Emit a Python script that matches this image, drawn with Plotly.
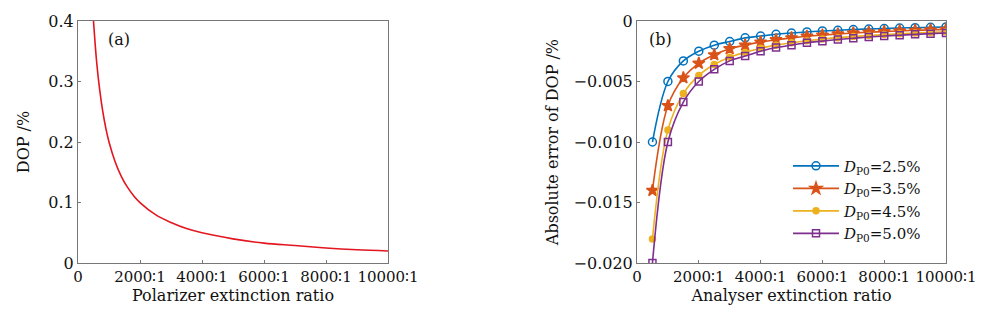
import plotly.graph_objects as go

# Panel (a): DOP vs polarizer extinction ratio
xa = [500, 600, 700, 800, 900, 1000, 1200, 1400, 1600, 1800, 2000, 2500, 3000, 3500,
      4000, 5000, 6000, 7000, 8000, 9000, 10000]
ya = [0.400, 0.333, 0.286, 0.250, 0.222, 0.200, 0.167, 0.143, 0.125, 0.111, 0.100,
      0.080, 0.067, 0.057, 0.050, 0.040, 0.033, 0.029, 0.025, 0.022, 0.020]

# Panel (b): absolute error of DOP vs analyser extinction ratio
xb = [500, 1000, 1500, 2000, 2500, 3000, 3500, 4000, 4500, 5000,
      5500, 6000, 6500, 7000, 7500, 8000, 8500, 9000, 9500, 10000]
y25 = [-0.0100, -0.0050, -0.0033, -0.0025, -0.0020, -0.0017, -0.0014, -0.00125, -0.0011, -0.0010,
       -0.00091, -0.00083, -0.00077, -0.00071, -0.00067, -0.00063, -0.00059, -0.00056, -0.00053, -0.0005]
y35 = [-0.0140, -0.0070, -0.0047, -0.0035, -0.0028, -0.0023, -0.0020, -0.00175, -0.00156, -0.0014,
       -0.00127, -0.00117, -0.00108, -0.0010, -0.00093, -0.00088, -0.00082, -0.00078, -0.00074, -0.0007]
y45 = [-0.0180, -0.0090, -0.0060, -0.0045, -0.0036, -0.0030, -0.0026, -0.00225, -0.0020, -0.0018,
       -0.00164, -0.0015, -0.00138, -0.00129, -0.0012, -0.00113, -0.00106, -0.0010, -0.00095, -0.0009]
y50 = [-0.0200, -0.0100, -0.0067, -0.0050, -0.0040, -0.0033, -0.0029, -0.0025, -0.0022, -0.0020,
       -0.0018, -0.00167, -0.00154, -0.00143, -0.00133, -0.00125, -0.00118, -0.00111, -0.00105, -0.0010]

series_names = ["<i>D</i><sub>P0</sub>=2.5%", "<i>D</i><sub>P0</sub>=3.5%",
                "<i>D</i><sub>P0</sub>=4.5%", "<i>D</i><sub>P0</sub>=5.0%"]
series_vals = [y25, y35, y45, y50]
colors = ["#0072BD", "#D95319", "#EDB120", "#7E2F8E"]
symbols = ["circle-open", "star", "circle", "square-open"]
msizes = [8, 9, 6, 7]

x_tickvals = [0, 2000, 4000, 6000, 8000, 10000]
x_ticktext = ["0", "2000∶1", "4000∶1", "6000∶1", "8000∶1", "10000∶1"]
ya_tickvals = [0, 0.1, 0.2, 0.3, 0.4]
ya_ticktext = ["0", "0.1", "0.2", "0.3", "0.4"]
yb_tickvals = [-0.02, -0.015, -0.01, -0.005, 0]
yb_ticktext = ["−0.020", "−0.015", "−0.010", "−0.005", "0"]

FONT = "DejaVu Serif"

fig = go.Figure()
fig.add_trace(go.Scatter(x=xa, y=ya, mode="lines", line=dict(color="#E3161F", width=1.6, shape="spline"),
                         showlegend=False, xaxis="x", yaxis="y"))
for name, vals, c, s, ms in zip(series_names, series_vals, colors, symbols, msizes):
    fig.add_trace(go.Scatter(x=xb, y=vals, mode="lines+markers", name=name,
                             line=dict(color=c, width=1.6, shape="spline"),
                             marker=dict(symbol=s, size=ms, color=c, line=dict(color=c, width=1.5)),
                             xaxis="x2", yaxis="y2"))

axis_common = dict(showline=True, mirror=True, linecolor="#777777", linewidth=1,
                   ticks="inside", ticklen=3, tickcolor="#777777", showgrid=False, zeroline=False,
                   automargin=False)
xaxis_common = dict(tickangle=0, tickfont=dict(family=FONT, size=15, color="#111"), **axis_common)
yaxis_common = dict(tickfont=dict(family=FONT, size=16, color="#111"), **axis_common)

fig.update_layout(
    width=1000, height=317,
    margin=dict(l=0, r=0, t=0, b=0),
    paper_bgcolor="white", plot_bgcolor="white",
    font=dict(family=FONT, size=16, color="#111"),
    xaxis=dict(domain=[0.078, 0.388], range=[0, 10000], tickvals=x_tickvals, ticktext=x_ticktext,
               title=dict(text="Polarizer extinction ratio", font=dict(family=FONT, size=16), standoff=2),
               anchor="y", **xaxis_common),
    yaxis=dict(domain=[0.170, 0.934], range=[0, 0.4], tickvals=ya_tickvals, ticktext=ya_ticktext,
               title=dict(text="DOP /%", font=dict(family=FONT, size=16), standoff=14),
               anchor="x", **yaxis_common),
    xaxis2=dict(domain=[0.637, 0.946], range=[0, 10000], tickvals=x_tickvals, ticktext=x_ticktext,
                title=dict(text="Analyser extinction ratio", font=dict(family=FONT, size=16), standoff=2),
                anchor="y2", **xaxis_common),
    yaxis2=dict(domain=[0.170, 0.934], range=[-0.02, 0], tickvals=yb_tickvals, ticktext=yb_ticktext,
                title=dict(text="Absolute error of DOP /%", font=dict(family=FONT, size=16), standoff=10),
                anchor="x2", **yaxis_common),
    legend=dict(x=0.788, y=0.528, xanchor="left", yanchor="top", bgcolor="rgba(0,0,0,0)",
                font=dict(family=FONT, size=15), tracegroupgap=0, itemwidth=46),
    annotations=[
        dict(text="(a)", x=0.106, y=0.875, xref="paper", yref="paper", showarrow=False,
             xanchor="left", yanchor="middle", font=dict(family=FONT, size=16)),
        dict(text="(b)", x=0.647, y=0.875, xref="paper", yref="paper", showarrow=False,
             xanchor="left", yanchor="middle", font=dict(family=FONT, size=16)),
    ],
)

fig.write_html("out.html", config={"displayModeBar": False},
               post_script="document.body.style.margin='0';document.body.style.padding='0';")
